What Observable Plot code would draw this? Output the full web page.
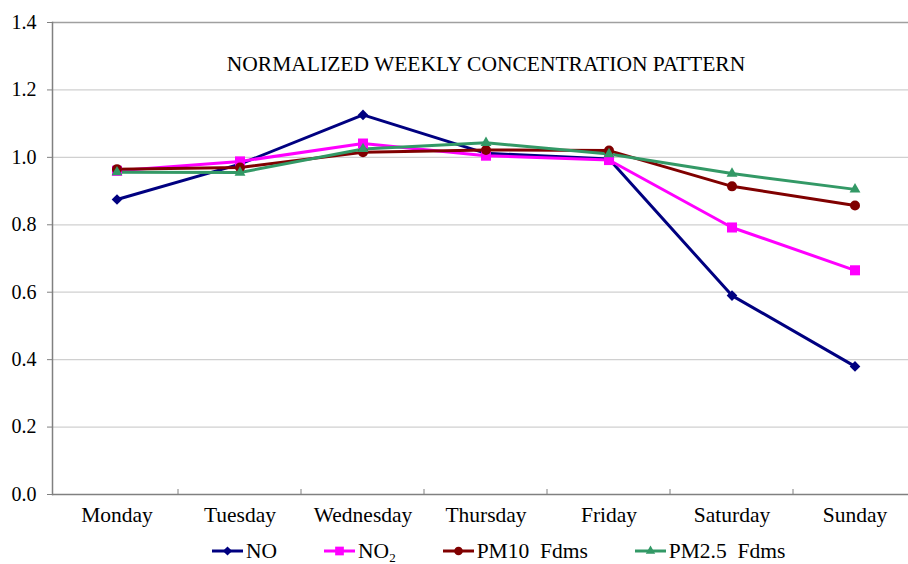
<!DOCTYPE html>
<html><head><meta charset="utf-8">
<script src="https://cdn.jsdelivr.net/npm/d3@7"></script>
<script src="https://cdn.jsdelivr.net/npm/@observablehq/plot@0.6"></script>
<style>
html,body{margin:0;padding:0;background:#fff;}
body{width:908px;height:564px;overflow:hidden;font-family:"Liberation Serif","Times New Roman",serif;}
#chart{width:908px;overflow:hidden;}
#legend{display:flex;align-items:center;margin-left:212px;gap:47px;height:24px;padding-top:4px;font-size:21.5px;color:#000;white-space:pre;}
#legend .item{display:flex;align-items:center;gap:3px;}
#legend sub{font-size:13px;vertical-align:-4px;line-height:0;}
</style></head><body>
<div id="chart"></div>
<div id="legend"></div>
<script>
const days = ["Monday","Tuesday","Wednesday","Thursday","Friday","Saturday","Sunday"];
const seriesNames = ["NO","NO2","PM10  Fdms","PM2.5  Fdms"];
const noValues   = [0.875, 0.980, 1.126, 1.012, 0.995, 0.590, 0.380];
const no2Values  = [0.960, 0.988, 1.041, 1.005, 0.992, 0.792, 0.665];
const pm10Values = [0.965, 0.970, 1.015, 1.022, 1.020, 0.914, 0.857];
const pm25Values = [0.956, 0.955, 1.025, 1.043, 1.010, 0.952, 0.905];
const yTicks = [0, 0.2, 0.4, 0.6, 0.8, 1.0, 1.2, 1.4];
const title = "NORMALIZED WEEKLY CONCENTRATION PATTERN";

const colors = ["#000080", "#FF00FF", "#800000", "#339966"];
const symbols = ["diamond2", "square2", "circle", "triangle2"];
const sizes = [4.8, 6.4, 5.0, 5.2];

const allValues = [noValues, no2Values, pm10Values, pm25Values];
const data = [];
seriesNames.forEach((s, i) => days.forEach((d, j) => data.push({series: s, day: d, value: allValues[i][j]})));

// category-boundary tick marks on the x axis (drawn from the x scale)
function boundaryTicks(index, scales) {
  const g = d3.create("svg:g");
  const y0 = scales.y(0);
  for (const d of days.slice(1)) {
    const x = scales.x(d);
    g.append("line").attr("x1", x).attr("x2", x).attr("y1", y0).attr("y2", y0 - 5).attr("stroke", "#808080");
  }
  return g.node();
}

const chart = Plot.plot({
  width: 908,
  height: 535,
  marginLeft: 52,
  marginRight: -11,
  marginTop: 22,
  marginBottom: 41,
  style: {fontFamily: '"Liberation Serif","Times New Roman",serif', fontSize: "21px", color: "#000", background: "#fff", overflow: "hidden"},
  x: {type: "band", domain: days, padding: 0, label: null},
  y: {type: "linear", domain: [0, 1.4], label: null},
  marks: [
    Plot.ruleY(yTicks.filter(t => t > 0 && t < 1.4), {stroke: "#d0d0d0", strokeWidth: 1.2}),
    Plot.ruleY([1.4], {stroke: "#a0a0a0", strokeWidth: 1.5}),
    Plot.axisY({ticks: yTicks, tickFormat: d3.format(".1f"), tickSize: 5, tickPadding: 11, stroke: "#808080", fontSize: 20}),
    Plot.axisX({tickSize: 0, tickPadding: 12, fontSize: 21.5}),
    Plot.ruleY([0], {stroke: "#808080", strokeWidth: 1.5}),
    Plot.frame({anchor: "left", stroke: "#808080", strokeWidth: 1.5}),
    boundaryTicks,
    Plot.text([title], {frameAnchor: "top", dy: 33, fontSize: 21.5, fill: "#000"}),
    Plot.line(data, {x: "day", y: "value", z: "series", stroke: d => colors[seriesNames.indexOf(d.series)], strokeWidth: 3, curve: "linear"}),
    ...seriesNames.map((s, i) => Plot.dot(data.filter(d => d.series === s), {x: "day", y: "value", symbol: symbols[i], fill: colors[i], stroke: "none", r: sizes[i]}))
  ]
});
document.getElementById("chart").append(chart);

// legend
const legend = document.getElementById("legend");
const labels = ["NO", "NO<sub>2</sub>", "PM10  Fdms", "PM2.5  Fdms"];
const symGen = {diamond2: d3.symbolDiamond2, square2: d3.symbolSquare2, circle: d3.symbolCircle, triangle2: d3.symbolTriangle2};
seriesNames.forEach((s, i) => {
  const item = document.createElement("div");
  item.className = "item";
  const svg = d3.create("svg").attr("width", 31).attr("height", 14);
  svg.append("line").attr("x1", 0).attr("x2", 31).attr("y1", 7).attr("y2", 7).attr("stroke", colors[i]).attr("stroke-width", 3);
  svg.append("path").attr("transform", "translate(15.5,7)").attr("d", d3.symbol(symGen[symbols[i]], Math.PI * sizes[i] * sizes[i] * 0.75)()).attr("fill", colors[i]);
  item.append(svg.node());
  const span = document.createElement("span");
  span.innerHTML = labels[i];
  item.append(span);
  legend.append(item);
});
</script>
</body></html>
